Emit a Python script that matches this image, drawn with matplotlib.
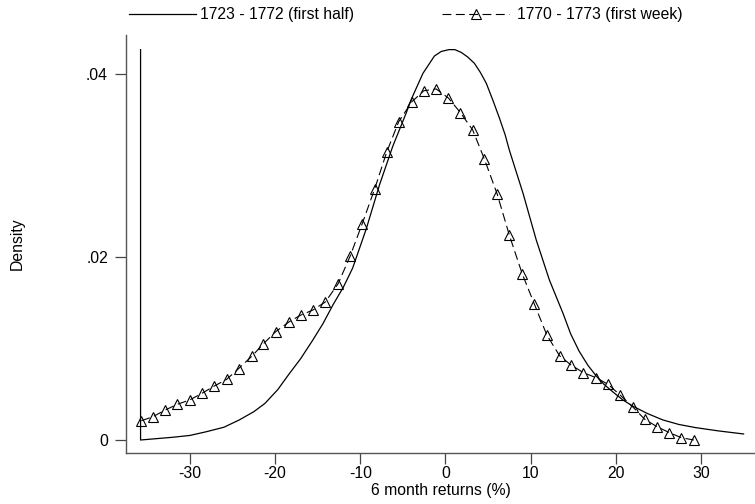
import matplotlib
matplotlib.use("Agg")
import matplotlib.pyplot as plt
from matplotlib.lines import Line2D

plt.rcParams['font.family'] = ['Liberation Sans', 'DejaVu Sans']
plt.rcParams['axes.unicode_minus'] = False

# 1723 - 1772 (first half), solid line
half_x = [-35.8, -35.8, -32.0, -30.0, -28.1, -26.0, -24.2, -22.5, -21.2, -19.7,
          -18.3, -17.0, -15.6, -14.4, -13.2, -12.0, -10.9, -9.3, -7.75, -6.2,
          -4.6, -4.0, -2.65, -1.3, -0.5, 0.4, 1.1, 1.84, 2.6, 3.4,
          4.1, 4.8, 5.55, 6.3, 7.0, 7.5, 9.1, 10.65, 12.2, 13.8,
          14.7, 15.7, 16.7, 17.7, 18.6, 19.6, 20.8, 22.0, 23.7, 25.5,
          27.4, 29.4, 32.0, 35.0]
half_y = [0.0427, 0.0, 0.0003, 0.0005, 0.0009, 0.0014, 0.0022, 0.0031, 0.0040, 0.0055,
          0.0073, 0.0089, 0.0109, 0.0127, 0.0148, 0.0167, 0.0188, 0.0231, 0.0279, 0.0321,
          0.0358, 0.0373, 0.0401, 0.0420, 0.0425, 0.0427, 0.0427, 0.0424, 0.0419, 0.0412,
          0.0402, 0.0390, 0.0372, 0.0353, 0.0334, 0.0317, 0.0270, 0.0219, 0.0175, 0.01385,
          0.0116, 0.0097, 0.0082, 0.0070, 0.0061, 0.0053, 0.0044, 0.0037, 0.0029, 0.0022,
          0.0017, 0.00135, 0.0010, 0.00066]

# 1770 - 1773 (first week), dashed with triangles
week_x = [-35.7, -34.35, -32.9, -31.5, -30.05, -28.6, -27.15, -25.7, -24.3, -22.7,
          -21.4, -19.95, -18.4, -17.0, -15.6, -14.1, -12.6, -11.2, -9.8, -8.3,
          -6.9, -5.5, -3.95, -2.55, -1.1, 0.35, 1.76, 3.2, 4.58, 6.07,
          7.5, 9.0, 10.45, 11.9, 13.4, 14.75, 16.2, 17.7, 19.1, 20.5,
          22.0, 23.4, 24.85, 26.3, 27.7, 29.15]
week_y = [0.00211, 0.00255, 0.00328, 0.0039, 0.00437, 0.0051, 0.0059, 0.00663, 0.0078, 0.0092,
          0.0105, 0.01184, 0.0129, 0.01366, 0.0142, 0.0151, 0.0171, 0.0201, 0.0236, 0.0275,
          0.0315, 0.0348, 0.0370, 0.0382, 0.0384, 0.0374, 0.0358, 0.0339, 0.0307, 0.0269,
          0.0224, 0.0182, 0.01483, 0.01148, 0.00921, 0.0082, 0.00736, 0.00681, 0.00608, 0.00492,
          0.00361, 0.00226, 0.00145, 0.0008, 0.00025, 0.0]

xticks = [-30, -20, -10, 0, 10, 20, 30]
yticks = [0, 0.02, 0.04]
ytick_labels = ["0", ".02", ".04"]

fs = 11.3
fig = plt.figure(figsize=(7.55, 5.04), dpi=100)
ax = fig.add_axes([126/755, 1 - 453.3/504, 629/755, 418.3/504])

ax.plot(half_x, half_y, color='black', lw=0.9)
ax.plot(week_x, week_y, color='black', lw=0.8, dashes=(8, 4),
        marker='^', markersize=7, mfc='none', mec='black', mew=0.8)

ax.set_xlim(-37.51, 36.34)
ax.set_ylim(-0.001455, 0.0443)

for s in ['top', 'right']:
    ax.spines[s].set_visible(False)
for s in ['left', 'bottom']:
    ax.spines[s].set_color('#555555')
    ax.spines[s].set_linewidth(1.0)

ax.set_xticks(xticks)
ax.set_yticks(yticks)
ax.set_yticklabels(ytick_labels)
ax.tick_params(axis='both', direction='out', length=8, width=0.9,
               color='#444444', labelsize=fs)
ax.tick_params(axis='x', pad=1.5)
ax.tick_params(axis='y', pad=5)

ax.set_xlabel("6 month returns (%)", fontsize=fs, labelpad=1)
ax.set_ylabel("Density", fontsize=fs)
ax.yaxis.set_label_coords(-0.1614, 0.5)

h1 = Line2D([], [], color='black', lw=0.9)
h2 = Line2D([], [], color='black', lw=0.8, dashes=(8, 4), marker='^',
            markersize=7, mfc='none', mec='black', mew=0.8)
fig.legend(handles=[h1], labels=["1723 - 1772 (first half)"],
           loc='center left', bbox_to_anchor=(129/755, 1 - 14.5/504),
           frameon=False, fontsize=fs, handlelength=4.3,
           handletextpad=0.2, borderpad=0, borderaxespad=0)
fig.legend(handles=[h2], labels=["1770 - 1773 (first week)"],
           loc='center left', bbox_to_anchor=(442/755, 1 - 14.5/504),
           frameon=False, fontsize=fs, handlelength=4.3,
           handletextpad=0.45, borderpad=0, borderaxespad=0, numpoints=1)

fig.savefig("out.png", dpi=100)
